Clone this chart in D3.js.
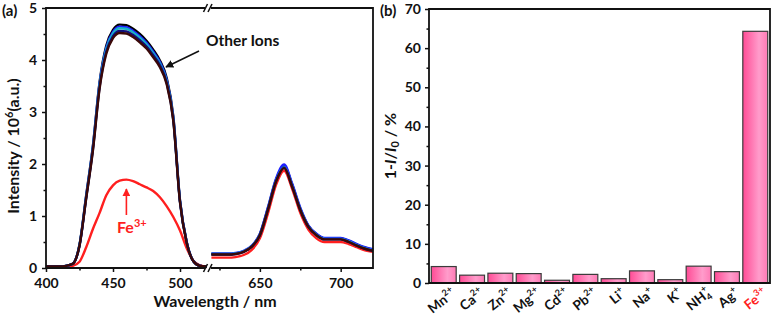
<!DOCTYPE html>
<html lang="en">
<head>
<meta charset="UTF-8">
<title>Fe3+ sensing</title>
<script src="https://cdn.jsdelivr.net/npm/d3@7"></script>
<style>
  body { margin: 0; background: #fff; }
  text { font-family: Lato, 'Open Sans', sans-serif; font-weight: 700; fill: #111; }
</style>
</head>
<body>
<script>
  // panel (a) - emission spectra, broken x axis
  const wlLeft = [400,405,410,415,420,425,430,435,440,445,450,455,460,465,470,475,480,485,490,495,500,505,510,515,520]
  const wlRight = [620,625,630,635,640,645,650,655,660,665,670,675,680,685,690,695,700,705,710,715,720]

  // other ions (left segment), x10^6
  const ionA_L = [0.03,0.03,0.03,0.04,0.08,0.45,1.40,2.35,3.58,4.28,4.58,4.68,4.67,4.60,4.50,4.37,4.20,3.99,3.66,2.92,1.30,0.50,0.13,0.04,0.03]
  const ionB_L = [0.03,0.03,0.03,0.04,0.08,0.44,1.38,2.33,3.55,4.24,4.54,4.64,4.63,4.56,4.46,4.33,4.16,3.96,3.63,2.89,1.29,0.50,0.13,0.04,0.03]
  const ionC_L = [0.03,0.03,0.03,0.04,0.08,0.44,1.37,2.31,3.52,4.21,4.51,4.61,4.60,4.53,4.43,4.30,4.13,3.93,3.60,2.87,1.28,0.49,0.13,0.04,0.03]
  const ionD_L = [0.03,0.03,0.03,0.04,0.08,0.43,1.35,2.28,3.48,4.16,4.46,4.56,4.55,4.48,4.38,4.26,4.09,3.90,3.57,2.85,1.27,0.49,0.13,0.04,0.03]
  const ionE_L = [0.03,0.03,0.03,0.04,0.08,0.43,1.34,2.26,3.45,4.12,4.42,4.52,4.51,4.44,4.34,4.22,4.05,3.86,3.54,2.83,1.26,0.48,0.13,0.04,0.03]
  const fe_L   = [0.02,0.02,0.02,0.02,0.04,0.12,0.40,0.75,1.06,1.40,1.59,1.68,1.70,1.67,1.61,1.55,1.48,1.36,1.19,0.98,0.72,0.38,0.14,0.05,0.02]

  // right segment
  const ionA_R = [0.27,0.27,0.27,0.28,0.32,0.42,0.65,1.15,1.70,1.96,1.60,1.14,0.81,0.65,0.57,0.57,0.57,0.52,0.45,0.39,0.35]
  const ionB_R = [0.28,0.28,0.28,0.29,0.33,0.43,0.66,1.17,1.72,1.99,1.62,1.16,0.82,0.66,0.58,0.58,0.58,0.53,0.46,0.40,0.36]
  const ionC_R = [0.27,0.27,0.27,0.28,0.32,0.42,0.64,1.14,1.68,1.94,1.58,1.13,0.80,0.64,0.56,0.56,0.56,0.51,0.44,0.38,0.34]
  const ionD_R = [0.26,0.26,0.26,0.27,0.31,0.41,0.63,1.13,1.67,1.93,1.57,1.12,0.79,0.63,0.55,0.55,0.55,0.50,0.43,0.37,0.33]
  const ionE_R = [0.26,0.26,0.26,0.27,0.31,0.41,0.63,1.12,1.66,1.92,1.56,1.11,0.79,0.63,0.55,0.55,0.55,0.50,0.43,0.37,0.33]
  const fe_R   = [0.20,0.20,0.20,0.21,0.25,0.35,0.57,1.05,1.60,1.87,1.52,1.06,0.74,0.57,0.50,0.50,0.50,0.46,0.40,0.34,0.31]

  const ionColors = ['#000000','#1f1fff','#17b3c8','#10107a','#3a0808']
  const feColor = '#ff1f1f'

  // panel (b) - quenching efficiency
  const ionNames   = ['Mn','Ca','Zn','Mg','Cd','Pb','Li','Na','K','NH','Ag','Fe']
  const ionSubs    = ['','','','','','','','','','4','','']
  const ionCharges = ['2+','2+','2+','2+','2+','2+','+','+','+','+','+','3+']
  const quench     = [4.2,2.0,2.5,2.4,0.7,2.2,1.1,3.1,0.85,4.3,2.9,64.3]
  const yTicksB    = [0,10,20,30,40,50,60,70]

  const W = 774, H = 314
  const svg = d3.select('body').append('svg').attr('width', W).attr('height', H)

  const defs = svg.append('defs')
  const grad = defs.append('linearGradient').attr('id', 'barGrad').attr('x1', 0).attr('x2', 1).attr('y1', 0).attr('y2', 0)
  grad.append('stop').attr('offset', 0).attr('stop-color', '#ff4b95')
  grad.append('stop').attr('offset', 0.65).attr('stop-color', '#ff9ccb')
  grad.append('stop').attr('offset', 1).attr('stop-color', '#ff7ab5')

  // ---------- (a) ----------
  const aLeft = 46, aRight = 373, aTop = 8, aBottom = 268
  const xL = d3.scaleLinear().domain([400, 520]).range([aLeft, 206.8])
  const xR = d3.scaleLinear().domain([620, 720]).range([211.4, aRight])
  const yA = d3.scaleLinear().domain([0, 5]).range([aBottom, aTop])

  const gA = svg.append('g')

  const tickText = g => g.call(g => g.select('.domain').remove())
    .call(g => g.selectAll('line').attr('stroke', '#111').attr('stroke-width', 1.5))
    .call(g => g.selectAll('text').style('font-size', '14px').attr('fill', '#111'))

  gA.append('g').attr('transform', `translate(0,${aBottom})`)
    .call(d3.axisBottom(xL).tickValues([400, 450, 500]).tickFormat(d3.format('d')).tickSize(4).tickPadding(6))
    .call(tickText)
  gA.append('g').attr('transform', `translate(0,${aBottom})`)
    .call(d3.axisBottom(xL).tickValues([425, 475]).tickFormat('').tickSize(2.5))
    .call(tickText)
  gA.append('g').attr('transform', `translate(0,${aBottom})`)
    .call(d3.axisBottom(xR).tickValues([650, 700]).tickFormat(d3.format('d')).tickSize(4).tickPadding(6))
    .call(tickText)
  gA.append('g').attr('transform', `translate(0,${aBottom})`)
    .call(d3.axisBottom(xR).tickValues([625, 675]).tickFormat('').tickSize(2.5))
    .call(tickText)
  gA.append('g').attr('transform', `translate(${aLeft},0)`)
    .call(d3.axisLeft(yA).tickValues([0, 1, 2, 3, 4, 5]).tickFormat(d3.format('d')).tickSize(4).tickPadding(5))
    .call(tickText)
  gA.append('g').attr('transform', `translate(${aLeft},0)`)
    .call(d3.axisLeft(yA).tickValues([0.5, 1.5, 2.5, 3.5, 4.5]).tickFormat('').tickSize(2.5))
    .call(tickText)

  // curves
  const lineL = d3.line().x((d, i) => xL(wlLeft[i])).y(d => yA(d)).curve(d3.curveMonotoneX)
  const lineR = d3.line().x((d, i) => xR(wlRight[i])).y(d => yA(d)).curve(d3.curveMonotoneX)

  const leftSeries = [ionA_L, ionB_L, ionC_L, ionD_L, ionE_L]
  const rightSeries = [ionA_R, ionB_R, ionC_R, ionD_R, ionE_R]

  gA.append('path').attr('d', lineR(fe_R)).attr('fill', 'none').attr('stroke', feColor).attr('stroke-width', 2.4)
  gA.append('path').attr('d', lineL(fe_L)).attr('fill', 'none').attr('stroke', feColor).attr('stroke-width', 2.4)
  gA.append('g').selectAll('path').data(leftSeries).join('path')
    .attr('d', d => lineL(d)).attr('fill', 'none')
    .attr('stroke', (d, i) => ionColors[i]).attr('stroke-width', 2.4)
  gA.append('g').selectAll('path').data(rightSeries).join('path')
    .attr('d', d => lineR(d)).attr('fill', 'none')
    .attr('stroke', (d, i) => ionColors[i]).attr('stroke-width', 2.4)

  // frame with axis break
  const brkA = 205, brkB = 211
  gA.append('path')
    .attr('d', `M${brkA},${aBottom}H${aLeft}V${aTop}H${brkA} M${brkB},${aTop}H${aRight}V${aBottom}H${brkB}`)
    .attr('fill', 'none').attr('stroke', '#111').attr('stroke-width', 1.8)
  ;[aTop, aBottom].forEach(yy => {
    ;[203.5, 208].forEach(x0 => {
      gA.append('line').attr('x1', x0).attr('y1', yy + 4).attr('x2', x0 + 4).attr('y2', yy - 4)
        .attr('stroke', '#111').attr('stroke-width', 1.5)
    })
  })

  // labels
  svg.append('text').attr('x', 2).attr('y', 16).style('font-size', '15px').text('(a)')
  const yLabA = svg.append('text').attr('transform', `translate(19,146) rotate(-90)`)
    .attr('text-anchor', 'middle').style('font-size', '16px')
  yLabA.append('tspan').text('Intensity / 10')
  yLabA.append('tspan').text('6').attr('dy', -6).style('font-size', '11px')
  yLabA.append('tspan').text('(a.u.)').attr('dy', 6)
  svg.append('text').attr('x', 215).attr('y', 307).attr('text-anchor', 'middle')
    .style('font-size', '16px').text('Wavelength / nm')

  svg.append('text').attr('x', 206).attr('y', 46).style('font-size', '15.5px').text('Other Ions')
  defs.append('marker').attr('id', 'arrBlack').attr('viewBox', '0 0 10 10').attr('refX', 9).attr('refY', 5)
    .attr('markerWidth', 5).attr('markerHeight', 5).attr('orient', 'auto')
    .append('path').attr('d', 'M0,0L10,5L0,10z').attr('fill', '#111')
  defs.append('marker').attr('id', 'arrRed').attr('viewBox', '0 0 10 10').attr('refX', 9).attr('refY', 5)
    .attr('markerWidth', 5).attr('markerHeight', 5).attr('orient', 'auto')
    .append('path').attr('d', 'M0,0L10,5L0,10z').attr('fill', feColor)
  svg.append('line').attr('x1', 199).attr('y1', 51).attr('x2', 166).attr('y2', 67)
    .attr('stroke', '#111').attr('stroke-width', 1.6).attr('marker-end', 'url(#arrBlack)')
  svg.append('line').attr('x1', xL(460)).attr('y1', 215).attr('x2', xL(460)).attr('y2', 189)
    .attr('stroke', feColor).attr('stroke-width', 1.6).attr('marker-end', 'url(#arrRed)')
  const feLab = svg.append('text').attr('x', 117).attr('y', 233).style('font-size', '16px').style('fill', feColor)
  feLab.append('tspan').text('Fe')
  feLab.append('tspan').text('3+').attr('dy', -6).style('font-size', '11px').style('fill', feColor)

  // ---------- (b) ----------
  const bLeft = 429, bRight = 770, bTop = 9, bBottom = 283
  const xB = d3.scaleBand().domain(d3.range(ionNames.length)).range([bLeft, bRight]).paddingInner(0.12).paddingOuter(0.08)
  const yB = d3.scaleLinear().domain([0, 70]).range([bBottom, bTop])

  const gB = svg.append('g')
  gB.append('g').attr('transform', `translate(${bLeft},0)`)
    .call(d3.axisLeft(yB).tickValues(yTicksB).tickSize(4).tickPadding(4))
    .call(tickText)
  gB.append('g').attr('transform', `translate(${bLeft},0)`)
    .call(d3.axisLeft(yB).tickValues([5, 15, 25, 35, 45, 55, 65]).tickFormat('').tickSize(2.5))
    .call(tickText)

  gB.append('g').selectAll('rect').data(quench).join('rect')
    .attr('x', (d, i) => xB(i))
    .attr('y', d => yB(d))
    .attr('width', xB.bandwidth())
    .attr('height', d => yB(0) - yB(d))
    .attr('fill', 'url(#barGrad)')
    .attr('stroke', '#3b3b3b').attr('stroke-width', 1.2)

  gB.append('path')
    .attr('d', `M${bLeft},${bBottom}V${bTop}H${bRight}V${bBottom}Z`)
    .attr('fill', 'none').attr('stroke', '#111').attr('stroke-width', 1.8)

  const ionLab = gB.append('g').selectAll('text').data(ionNames).join('text')
    .attr('transform', (d, i) => `translate(${xB(i) + xB.bandwidth() / 2 + 13},${bBottom + 12}) rotate(-38)`)
    .attr('text-anchor', 'end')
    .style('font-size', '13.5px')
    .style('fill', (d, i) => i === ionNames.length - 1 ? feColor : '#111')
  ionLab.append('tspan').text(d => d)
  ionLab.each(function (d, i) {
    const t = d3.select(this)
    const col = i === ionNames.length - 1 ? feColor : '#111'
    if (ionSubs[i]) {
      t.append('tspan').text(ionSubs[i]).attr('dy', 3).style('font-size', '9px').style('fill', col)
      t.append('tspan').text(ionCharges[i]).attr('dx', -5).attr('dy', -10).style('font-size', '9px').style('fill', col)
    } else {
      t.append('tspan').text(ionCharges[i]).attr('dy', -6).style('font-size', '9px').style('fill', col)
    }
  })

  svg.append('text').attr('x', 380).attr('y', 16).style('font-size', '15px').text('(b)')
  const yLabB = svg.append('text').attr('transform', `translate(396,146) rotate(-90)`)
    .attr('text-anchor', 'middle').style('font-size', '16px')
  yLabB.append('tspan').text('1-')
  yLabB.append('tspan').text('I').style('font-style', 'italic')
  yLabB.append('tspan').text('/')
  yLabB.append('tspan').text('I').style('font-style', 'italic')
  yLabB.append('tspan').text('0').attr('dy', 3).style('font-size', '11px')
  yLabB.append('tspan').text(' / %').attr('dy', -3)
</script>
</body>
</html>
